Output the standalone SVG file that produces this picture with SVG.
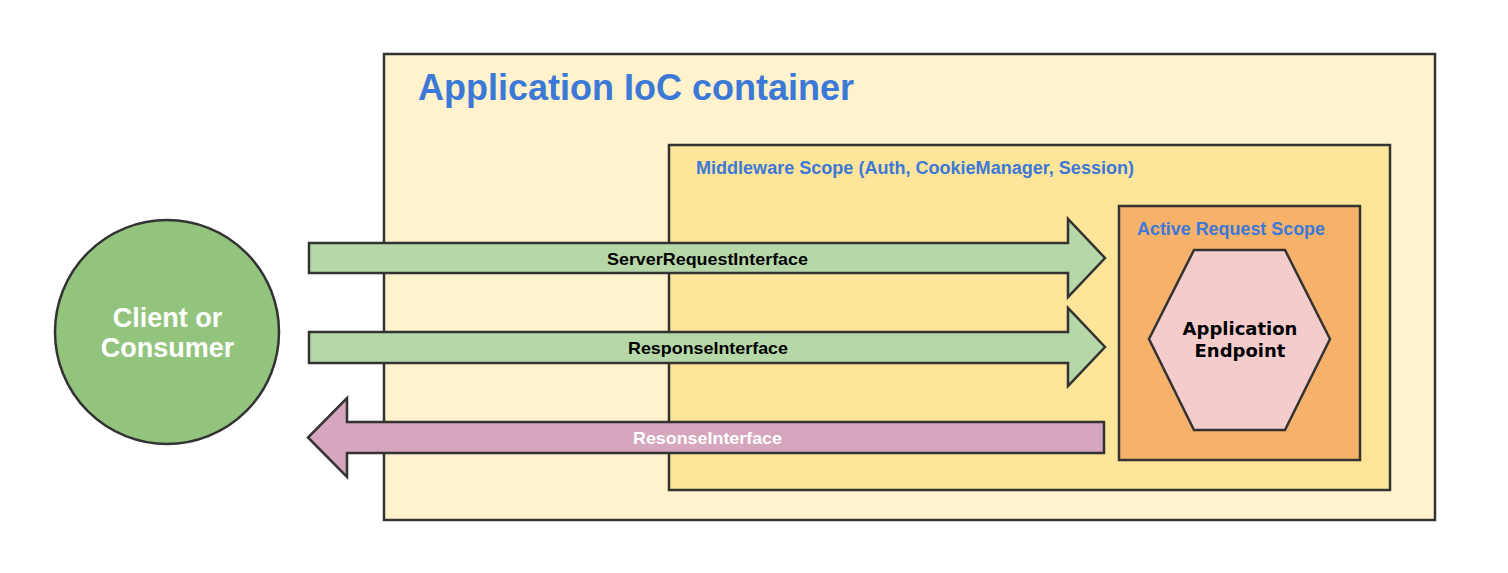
<svg xmlns="http://www.w3.org/2000/svg" width="1508" height="573" viewBox="0 0 1508 573">
<style>
.box{stroke:#333;stroke-width:2.5}
.blue{fill:#3c78d8;font-family:"Liberation Sans",Arial,sans-serif;font-weight:bold}
.lbl{font-family:"Liberation Sans",Arial,sans-serif;font-weight:bold;font-size:17px;text-anchor:middle}
.arrow{stroke:#333;stroke-width:2.5;stroke-linejoin:miter}
</style>
<rect width="1508" height="573" fill="#fff"/>
<g id="ioc-container">
<rect class="box" x="384" y="54" width="1051" height="466" fill="#fff2cc"/>
<text class="blue" x="418" y="100" font-size="36">Application IoC container</text>
</g>
<g id="middleware-scope">
<rect class="box" x="669" y="145" width="721" height="345" fill="#ffe599"/>
<text class="blue" x="696" y="174" font-size="18" textLength="438" lengthAdjust="spacingAndGlyphs">Middleware Scope (Auth, CookieManager, Session)</text>
</g>
<g id="active-request-scope">
<rect class="box" x="1119" y="206" width="241" height="254" fill="#f6b26b"/>
<text class="blue" x="1137" y="235" font-size="18" textLength="188" lengthAdjust="spacingAndGlyphs">Active Request Scope</text>
</g>
<g id="application-endpoint">
<polygon class="box" points="1194,250 1285,250 1330,339 1285,430 1194,430 1149,339" fill="#f4cccc"/>
<text font-family="'DejaVu Sans',Verdana,sans-serif" font-weight="bold" font-size="18" text-anchor="middle" fill="#000"><tspan x="1240" y="335">Application</tspan><tspan x="1240" y="357">Endpoint</tspan></text>
</g>
<g id="client">
<circle class="box" cx="167" cy="332" r="112" fill="#93c47d"/>
<text font-family="'Liberation Sans',Arial,sans-serif" font-weight="bold" font-size="27" text-anchor="middle" fill="#fff"><tspan x="167.5" y="327">Client or</tspan><tspan x="167.5" y="357">Consumer</tspan></text>
</g>
<g id="connectors">
<g id="server-request">
<polygon class="arrow" points="309,243 1068,243 1068,219 1105,258 1068,297 1068,273 309,273" fill="#b6d7a8"/>
<text class="lbl" x="707.5" y="265" fill="#000" textLength="201" lengthAdjust="spacingAndGlyphs">ServerRequestInterface</text>
</g>
<g id="response-in">
<polygon class="arrow" points="309,332 1068,332 1068,308 1105,347 1068,386 1068,363 309,363" fill="#b6d7a8"/>
<text class="lbl" x="708" y="354" fill="#000" textLength="160" lengthAdjust="spacingAndGlyphs">ResponseInterface</text>
</g>
<g id="response-out">
<polygon class="arrow" points="1104,422 347,422 347,398 308,437.5 347,477 347,453 1104,453" fill="#d5a6bd"/>
<text class="lbl" x="707.5" y="444" fill="#fff" textLength="149" lengthAdjust="spacingAndGlyphs">ResonseInterface</text>
</g>
</g>
</svg>
